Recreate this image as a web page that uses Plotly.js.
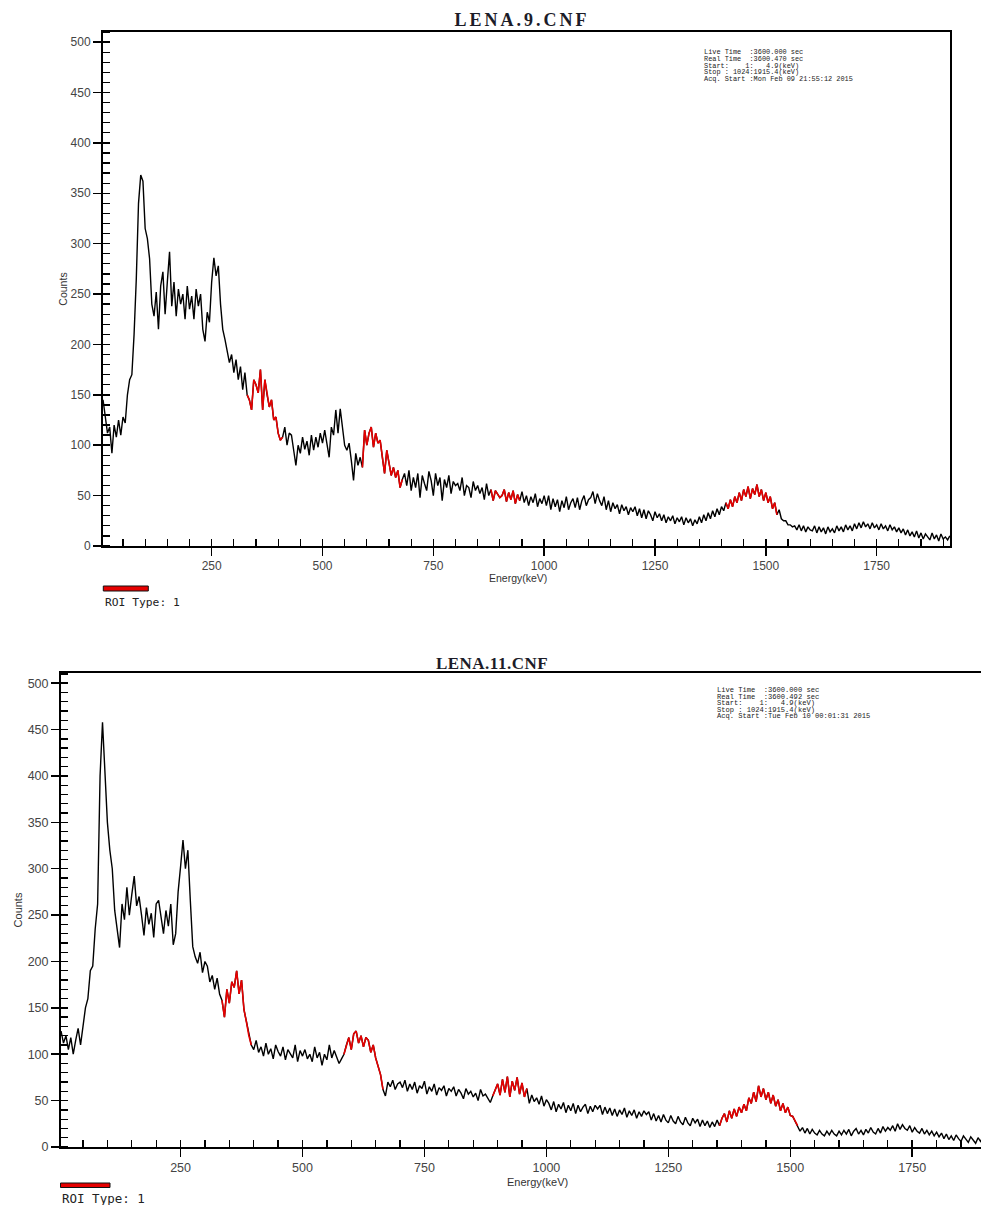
<!DOCTYPE html>
<html><head><meta charset="utf-8">
<script src="https://cdn.plot.ly/plotly-3.0.1.min.js"></script>
<style>
html,body{margin:0;padding:0;background:#fff;overflow:hidden;}
#c1{position:absolute;left:0;top:0;width:981px;height:615px;}
#c2{position:absolute;left:0;top:640px;width:981px;height:565px;}
#c1 .gtitle{letter-spacing:3px;}
#c2 .gtitle{letter-spacing:0.5px;}
</style></head><body>
<div id="c1"></div><div id="c2"></div>
<script>
// ---- data (spectrum sampled every 5 keV, starting at 5 keV) ----
const startKeV = 5;
const stepKeV = 5;

const countsLena9 = [
145,128,112,118,92,120,108,125,110,128,122,150,165,170,210,265,340,368,362,315,
305,285,240,228,252,215,258,272,230,262,292,238,262,228,255,240,250,225,258,235,
248,225,255,238,250,215,203,232,222,262,286,268,278,240,215,205,192,182,190,172,
185,165,178,155,172,150,145,135,165,160,152,175,135,165,150,138,145,125,128,112,
105,108,118,100,112,110,95,80,100,92,108,96,104,90,110,95,108,98,112,102,
115,100,88,118,110,135,112,136,115,100,95,102,85,65,92,80,88,78,115,100,
112,118,98,112,102,105,88,72,95,80,70,78,68,75,58,66,72,60,75,55,
68,58,72,48,70,62,55,74,65,50,72,60,68,45,66,58,70,52,64,60,
62,55,68,50,60,58,48,64,55,60,52,58,46,62,50,56,45,55,52,48,
50,56,44,53,46,55,42,51,45,54,43,50,40,49,43,52,39,47,42,50,
40,50,36,47,39,46,34,45,38,49,36,43,47,38,48,36,45,50,40,46,
48,54,42,52,45,40,49,36,45,34,43,37,41,32,41,35,39,31,38,34,
39,30,37,28,36,27,35,31,25,34,28,32,25,31,23,29,25,30,22,28,
24,29,21,28,23,27,20,26,22,29,23,31,25,33,27,35,29,37,31,39,
35,43,37,46,39,49,43,53,45,56,49,59,47,57,51,61,49,56,45,53,
43,49,37,43,31,36,27,25,25,21,21,19,20,16,21,15,20,14,19,16,
15,20,13,19,14,18,12,19,14,17,13,20,15,19,14,21,16,20,15,22,
17,23,18,24,19,22,17,23,18,21,16,22,17,20,15,21,16,19,14,18,
13,17,11,16,10,14,9,15,8,13,7,12,9,6,13,7,11,5,12,7,
9,6,10
];

const countsLena11 = [
125,112,120,105,118,100,115,128,110,132,150,160,190,195,235,262,400,458,395,350,
320,300,255,232,215,262,245,280,250,272,292,260,270,250,228,258,240,252,226,262,
266,248,230,255,238,262,218,230,275,302,331,300,320,266,216,205,198,210,188,200,
195,178,185,170,182,165,158,140,170,155,178,172,190,165,180,148,135,120,110,105,
115,102,108,98,112,100,106,95,110,103,98,108,94,105,100,96,110,92,104,98,
105,95,100,92,108,96,102,88,100,94,110,96,104,98,90,95,100,110,118,105,
122,125,112,120,108,118,115,102,110,96,88,78,62,55,70,65,72,62,68,70,
64,72,60,68,62,70,58,66,63,71,57,65,60,68,56,64,61,66,55,63,
60,65,55,62,58,52,63,57,60,54,58,50,62,55,57,52,48,55,62,68,
56,73,59,76,54,71,61,75,57,69,54,63,47,56,49,53,46,55,44,51,
47,40,49,38,46,41,48,37,45,39,47,36,45,38,43,46,36,44,38,45,
41,45,35,43,36,42,34,41,33,40,35,42,32,39,34,40,31,38,33,39,
35,38,29,36,28,34,27,35,29,26,34,28,25,33,27,24,32,26,23,31,
26,30,22,29,23,28,21,27,22,29,23,31,36,27,39,31,41,33,43,37,
46,39,53,47,59,49,66,54,63,51,59,47,56,44,51,39,47,37,43,34,
33,27,23,17,21,15,20,14,19,15,13,18,14,12,17,13,18,14,12,17,
13,18,14,19,12,17,20,14,18,13,19,15,21,16,14,20,15,22,17,21,
18,23,17,25,19,24,20,18,23,16,21,17,15,20,14,18,13,17,12,16,
11,15,9,14,8,12,7,13,9,6,12,8,5,11,7,4,10,6,11,5,
8,5,7
];

// regions of interest, keV
const roiLena9 = [[330, 410], [590, 680], [880, 945], [1410, 1525]];
const roiLena11 = [[335, 395], [585, 665], [890, 960], [1355, 1515]];

const infoLena9 = [
  "Live Time  :3600.000 sec",
  "Real Time  :3600.470 sec",
  "Start:    1:   4.9(keV)",
  "Stop : 1024:1915.4(keV)",
  "Acq. Start :Mon Feb 09 21:55:12 2015"
];
const infoLena11 = [
  "Live Time  :3600.000 sec",
  "Real Time  :3600.492 sec",
  "Start:    1:   4.9(keV)",
  "Stop : 1024:1915.4(keV)",
  "Acq. Start :Tue Feb 10 00:01:31 2015"
];

const titleLena9 = "LENA.9.CNF";
const titleLena11 = "LENA.11.CNF";
const xTitle = "Energy(keV)";
const yTitle = "Counts";
const roiLabel = "ROI Type: 1";
const energyStart = 4.9;
const energyStop = 1915.4;

// ---- drawing ----
function buildChart(divId, counts, rois, info, title, g) {
  const px = x => (x - g.l) / (g.W - g.l - g.r);
  const py = y => (g.H - g.b - y) / (g.H - g.t - g.b);

  const traces = [{
    type: 'scatter', mode: 'lines', x0: startKeV, dx: stepKeV, y: counts,
    line: {color: '#000000', width: 1.4}, hoverinfo: 'skip', showlegend: false
  }];
  rois.forEach(r => {
    const i0 = Math.round((r[0] - startKeV) / stepKeV);
    const i1 = Math.round((r[1] - startKeV) / stepKeV);
    traces.push({
      type: 'scatter', mode: 'lines', x0: startKeV + i0 * stepKeV, dx: stepKeV,
      y: counts.slice(i0, i1 + 1),
      line: {color: '#e60000', width: 1.6}, hoverinfo: 'skip', showlegend: false
    });
  });
  traces.push({type: 'scatter', mode: 'lines', x: [], y: [], xaxis: 'x2', yaxis: 'y2', showlegend: false});

  const tickFont = {family: 'Liberation Sans, Arial, sans-serif', size: g.tickSize, color: '#444'};
  const axTitleFont = {family: 'Liberation Sans, Arial, sans-serif', size: g.axTitleSize, color: '#333'};
  const xr = [energyStart, g.xmax], yr = [0, g.ymax];

  const annotations = info.map((line, i) => ({
    xref: 'paper', yref: 'paper', x: px(g.infoX), y: py(g.infoY0 + i * g.infoDY),
    xanchor: 'left', yanchor: 'middle', showarrow: false,
    text: line.replace(/ /g, '\u00a0'),
    font: {family: 'Liberation Mono, DejaVu Sans Mono, monospace', size: g.infoSize, color: '#222'}
  }));
  annotations.push({
    xref: 'paper', yref: 'paper', x: px(g.roiTextX), y: py(g.roiTextY),
    xanchor: 'left', yanchor: 'middle', showarrow: false,
    text: roiLabel.replace(/ /g, '\u00a0'),
    font: {family: 'DejaVu Sans Mono, monospace', size: g.roiSize, color: '#222'}
  });
  // x-axis title placed as in the original (just under the tick labels)
  annotations.push({
    xref: 'paper', yref: 'paper', x: px(g.xTitleX), y: py(g.xTitleY),
    xanchor: 'center', yanchor: 'middle', showarrow: false,
    text: xTitle, font: axTitleFont
  });

  const shapes = [{
    type: 'rect', xref: 'paper', yref: 'paper',
    x0: px(g.roiBar[0]), x1: px(g.roiBar[1]), y0: py(g.roiBar[2]), y1: py(g.roiBar[3]),
    fillcolor: '#e60000', line: {color: '#111', width: 1}
  }];

  const layout = {
    width: g.W, height: g.H,
    margin: {l: g.l, r: g.r, t: g.t, b: g.b, pad: 0},
    paper_bgcolor: '#ffffff', plot_bgcolor: '#ffffff',
    showlegend: false,
    title: {
      text: title, xref: 'container', yref: 'container',
      x: g.titleX / g.W, y: 1 - g.titleY / g.H, xanchor: 'center', yanchor: 'middle',
      font: {family: 'Liberation Serif, Times New Roman, serif', size: g.titleSize, color: '#1c1c28', weight: 'bold'}
    },
    xaxis: {
      range: xr, tickmode: 'linear', tick0: 0, dtick: 250,
      ticks: 'outside', ticklen: 8, tickwidth: 1.5, tickcolor: '#000',
      minor: {ticks: 'inside', dtick: 50, ticklen: 7, tickwidth: 1.3, tickcolor: '#000', showgrid: false},
      showline: true, linecolor: '#000', linewidth: 2, mirror: true,
      showgrid: false, zeroline: false, tickfont: tickFont, automargin: false, fixedrange: true
    },
    yaxis: {
      range: yr, tickmode: 'linear', tick0: 0, dtick: 50,
      ticks: 'outside', ticklen: 8, tickwidth: 1.5, tickcolor: '#000',
      minor: {ticks: 'inside', dtick: 10, ticklen: 7, tickwidth: 1.3, tickcolor: '#000', showgrid: false},
      showline: true, linecolor: '#000', linewidth: 2, mirror: g.mirrorY,
      showgrid: false, zeroline: false, tickfont: tickFont, automargin: false, fixedrange: true,
      title: {text: yTitle, font: axTitleFont, standoff: g.yStandoff}
    },
    xaxis2: {
      overlaying: 'x', anchor: 'y', range: xr, tickmode: 'linear', tick0: 0, dtick: 250,
      ticks: 'inside', ticklen: 7, tickwidth: 1.5, tickcolor: '#000',
      showticklabels: false, showline: false, showgrid: false, zeroline: false, fixedrange: true
    },
    yaxis2: {
      overlaying: 'y', anchor: 'x', range: yr, tickmode: 'linear', tick0: 0, dtick: 50,
      ticks: 'inside', ticklen: 7, tickwidth: 1.5, tickcolor: '#000',
      showticklabels: false, showline: false, showgrid: false, zeroline: false, fixedrange: true
    },
    annotations: annotations,
    shapes: shapes
  };
  Plotly.newPlot(divId, traces, layout, {staticPlot: true, displayModeBar: false});
}

buildChart('c1', countsLena9, roiLena9, infoLena9, titleLena9, {
  W: 981, H: 615, l: 103, r: 31, t: 32, b: 69,
  xmax: energyStop, ymax: 510, mirrorY: true,
  tickSize: 12, axTitleSize: 10.5, yStandoff: 1,
  xTitleX: 518, xTitleY: 578,
  titleX: 522, titleY: 20, titleSize: 18,
  infoX: 702, infoY0: 51.7, infoDY: 6.9, infoSize: 6.9,
  roiBar: [103.3, 148.3, 586, 591], roiTextX: 103, roiTextY: 602.7, roiSize: 11.3
});

buildChart('c2', countsLena11, roiLena11, infoLena11, titleLena11, {
  W: 981, H: 565, l: 61, r: 0, t: 33, b: 58,
  xmax: 1891, ymax: 511, mirrorY: false,
  tickSize: 12.5, axTitleSize: 11, yStandoff: 3,
  xTitleX: 537, xTitleY: 542,
  titleX: 492, titleY: 23, titleSize: 17,
  infoX: 715, infoY0: 50.3, infoDY: 6.5, infoSize: 7.1,
  roiBar: [60.5, 110, 543, 547.5], roiTextX: 60, roiTextY: 558, roiSize: 12.5
});
</script>
</body></html>
